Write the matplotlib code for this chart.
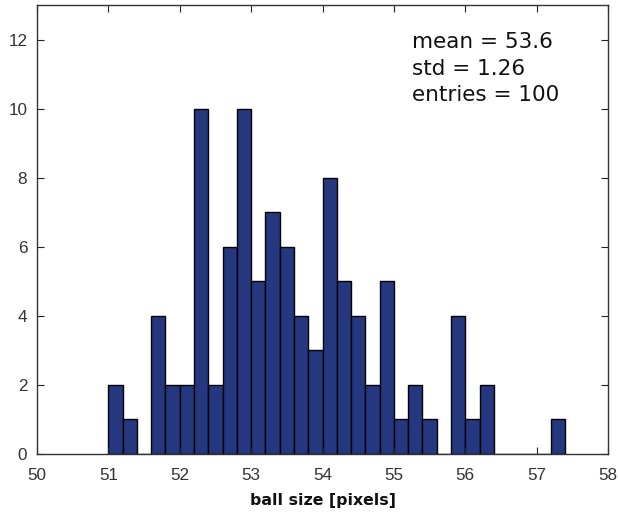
import numpy as np
import matplotlib
matplotlib.use("Agg")
import matplotlib.pyplot as plt

# histogram data (MATLAB-style hist, 32 bins of width 0.2 starting at 51.0)
bin_start = 51.0
bin_width = 0.2
counts = [2, 1, 0, 4, 2, 2, 10, 2, 6, 10, 5, 7, 6, 4, 3, 8,
          5, 4, 2, 5, 1, 2, 1, 0, 4, 1, 2, 0, 0, 0, 0, 1]
stats_lines = ["mean = 53.6", "std = 1.26", "entries = 100"]
x_ticks = [50, 51, 52, 53, 54, 55, 56, 57, 58]
y_ticks = [0, 2, 4, 6, 8, 10, 12]
xlabel = "ball size [pixels]"

fig = plt.figure(figsize=(6.18, 5.17), dpi=100)
W, H = 618, 517
ax = fig.add_axes([37 / W, 1 - 454 / H, (608 - 37) / W, (454 - 5) / H])

lefts = bin_start + bin_width * np.arange(len(counts))
ax.bar(lefts, counts, width=bin_width, align="edge", color="#24377f",
       edgecolor="black", linewidth=1.0)

ax.set_xlim(50, 58)
ax.set_ylim(0, 13)
ax.set_xticks(x_ticks)
ax.set_yticks(y_ticks)
ax.tick_params(direction="in", top=True, right=True, length=5, width=0.8,
               labelsize=12.3, colors="#222222")
ax.tick_params(axis="x", pad=10)
ax.tick_params(axis="y", pad=7)
for lbl in ax.get_xticklabels() + ax.get_yticklabels():
    lbl.set_family("Liberation Sans")
    lbl.set_color("#333333")
for s in ax.spines.values():
    s.set_color("#333333")
    s.set_linewidth(1.0)

ax.set_xlabel(xlabel, fontsize=11.3, fontweight="bold", labelpad=7,
              family="DejaVu Sans", color="#111111")

ax.text(0.656, 0.94, "\n".join(stats_lines), transform=ax.transAxes,
        fontsize=15.5, va="top", ha="left", linespacing=1.42,
        color="#111111", family="DejaVu Sans")

fig.savefig("out.png", dpi=100)
